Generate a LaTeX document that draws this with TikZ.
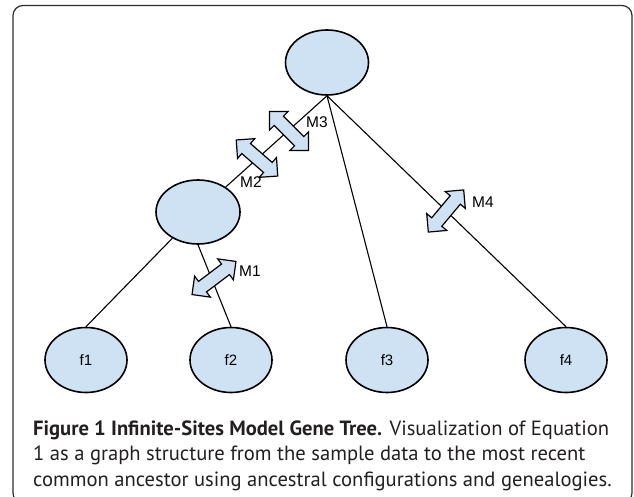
\documentclass[tikz,border=0pt]{standalone}
\usepackage{fontspec}
\setmainfont{Liberation Sans}
\newfontfamily\captionfont{PT Sans}
\usetikzlibrary{positioning,shapes.geometric,shapes.arrows}
\definecolor{nodeblue}{RGB}{207,226,243}
\definecolor{framegray}{RGB}{45,45,45}
\definecolor{captiontext}{RGB}{35,31,32}
\tikzset{
    tree node/.style={ellipse, draw=black, line width=1.6pt, fill=nodeblue, minimum width=83pt, minimum height=65pt, inner sep=0pt},
    leaf node/.style={tree node, minimum width=82pt, font=\fontsize{15}{15}\selectfont},
    branch/.style={draw=black, line width=1.1pt},
    mutation arrow/.style={double arrow, draw=black, line width=1.2pt, fill=nodeblue, minimum height=55pt, inner xsep=0pt, inner ysep=6pt, double arrow head extend=6.5pt},
    mutation label/.style={font=\fontsize{15.5}{15.5}\selectfont, inner sep=0pt},
    caption line/.style={anchor=base west, inner sep=0pt, text=captiontext, font=\captionfont\fontsize{20.6}{20.6}\selectfont}
}

\begin{document}
\begin{tikzpicture}[x=1pt, y=-1pt]
    % Page and frame
    \useasboundingbox (0,0) rectangle (634,497);
    \clip (0,0) rectangle (634,497);
    \draw[framegray, line width=1.2pt, rounded corners=10pt] (13,5.5) rectangle (632,503);

    % Ancestors
    \node[tree node] (root) at (327,62.5) {};
    \node[tree node, minimum width=84pt, minimum height=64pt] (mid) at (198,212) {};

    % Sampled leaves
    \node[leaf node] (f1) at (86,360) {f1};
    \node[leaf node] (f2) at (231,360) {f2};
    \node[leaf node] (f3) at (387,360) {f3};
    \node[leaf node] (f4) at (566,360) {f4};

    % Branches
    \draw[branch] (root.south) -- (mid);
    \draw[branch] (root.south) -- (f3.north);
    \draw[branch] (root.south) -- (f4.north);
    \draw[branch] (mid) -- (f1.north);
    \draw[branch] (mid.south) -- (f2.north);

    % Mutations on the branches
    \node[mutation arrow, rotate=-45] (m3) at (289,131) {};
    \node[mutation label] (m3 label) at (317,122) {M3};
    \node[mutation arrow, rotate=-41] (m2) at (257,158) {};
    \node[mutation label] (m2 label) at (251,182) {M2};
    \node[mutation arrow, rotate=37] (m1) at (214,278) {};
    \node[mutation label] (m1 label) at (250,271) {M1};
    \node[mutation arrow, rotate=50] (m4) at (446,211) {};
    \node[mutation label] (m4 label) at (483,202) {M4};

    % Caption
    \node[caption line] (cap1) at (33,435) {\textbf{Figure 1 Infinite-Sites Model Gene Tree.} Visualization of Equation};
    \node[caption line] (cap2) at (33,460.5) {1 as a graph structure from the sample data to the most recent};
    \node[caption line] (cap3) at (33,486) {common ancestor using ancestral configurations and genealogies.};
\end{tikzpicture}
\end{document}
